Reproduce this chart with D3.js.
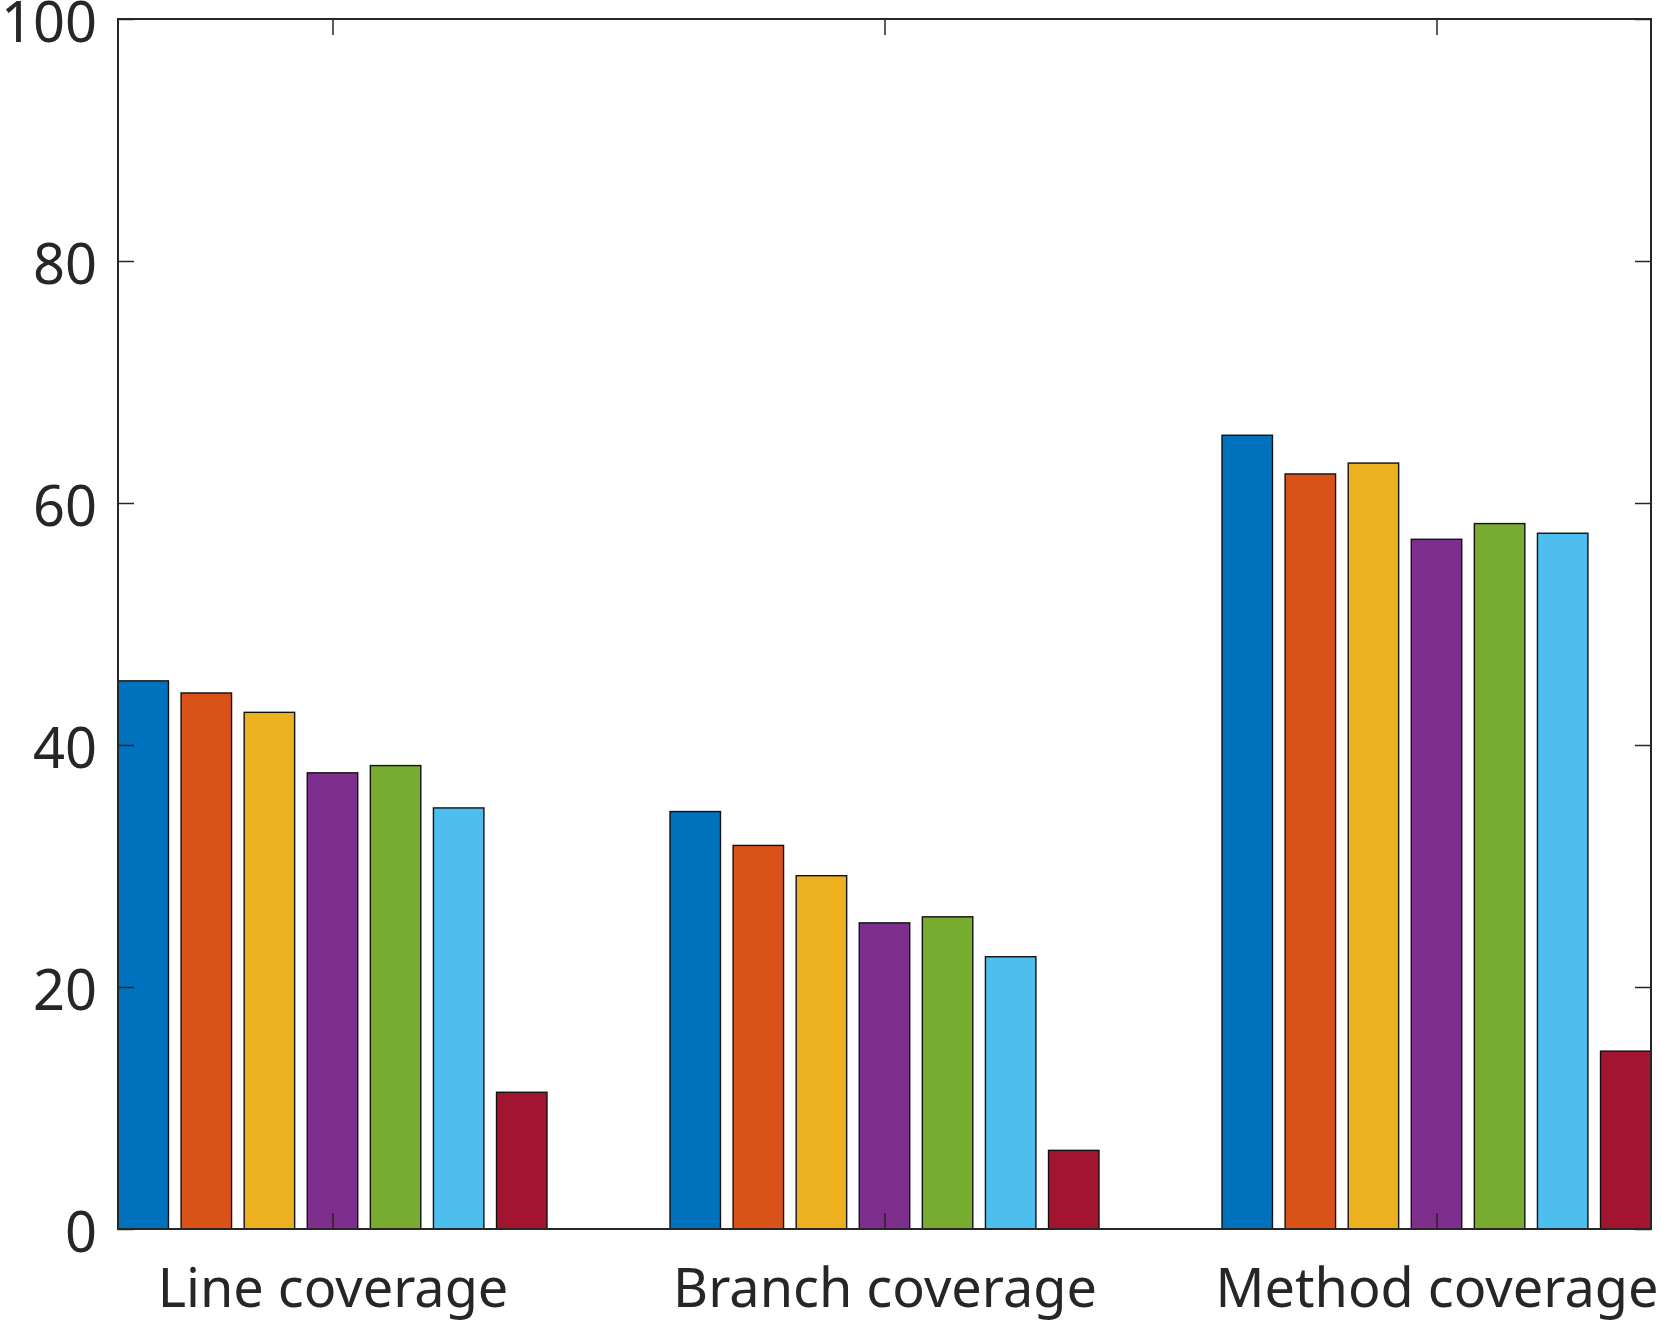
<!DOCTYPE html>
<html>
<head>
<meta charset="utf-8">
<script src="https://cdn.jsdelivr.net/npm/d3@7"></script>
<style>
  html, body { margin: 0; padding: 0; background: #fff; }
  svg { display: block; }
  text { font-family: "Noto Sans", "Open Sans", sans-serif; fill: #262626; }
</style>
</head>
<body>
<svg id="chart" width="1661" height="1329"></svg>
<script>
// ---- data ----
const categories = ["Line coverage", "Branch coverage", "Method coverage"];
const seriesColors = ["#0072BD", "#D95319", "#EDB120", "#7E2F8E", "#77AC30", "#4DBEEE", "#A2142F"];
const series1 = [45.3, 34.5, 65.6];
const series2 = [44.3, 31.7, 62.4];
const series3 = [42.7, 29.2, 63.3];
const series4 = [37.7, 25.3, 57.0];
const series5 = [38.3, 25.8, 58.3];
const series6 = [34.8, 22.5, 57.5];
const series7 = [11.3, 6.5, 14.7];
const yTicks = [0, 20, 40, 60, 80, 100];

const allSeries = [series1, series2, series3, series4, series5, series6, series7];

// ---- layout ----
const plotLeft = 118, plotRight = 1651, plotTop = 19, plotBottom = 1229;
const nSeries = allSeries.length;
const groupWidth = 0.8;
const pitch = groupWidth / nSeries;
const barW = pitch * 0.8;
const pad = (nSeries - 1) / 2 * pitch + barW / 2;

const x = d3.scaleLinear().domain([1 - pad, categories.length + pad]).range([plotLeft, plotRight]);
const y = d3.scaleLinear().domain([0, 100]).range([plotBottom, plotTop]);

const svg = d3.select("#chart");
const axisColor = "#262626";

// bars
allSeries.forEach((vals, si) => {
  const off = (si - (nSeries - 1) / 2) * pitch;
  svg.append("g").selectAll("rect")
    .data(vals)
    .join("rect")
    .attr("x", (d, i) => x(i + 1 + off - barW / 2))
    .attr("width", (d, i) => x(i + 1 + off + barW / 2) - x(i + 1 + off - barW / 2))
    .attr("y", d => y(d))
    .attr("height", d => y(0) - y(d))
    .attr("fill", seriesColors[si])
    .attr("stroke", "#111")
    .attr("stroke-width", 1.4);
});

// axes
const tickLen = 16;
const xTickVals = categories.map((c, i) => i + 1);

const gl = svg.append("g").attr("transform", `translate(${plotLeft},0)`)
  .call(d3.axisLeft(y).tickValues(yTicks).tickSize(-tickLen).tickPadding(21).tickFormat(d3.format("d")));
const gr = svg.append("g").attr("transform", `translate(${plotRight},0)`)
  .call(d3.axisRight(y).tickValues(yTicks).tickSize(-tickLen).tickFormat(""));
const gb = svg.append("g").attr("transform", `translate(0,${plotBottom})`)
  .call(d3.axisBottom(x).tickValues(xTickVals).tickSize(-tickLen).tickPadding(40)
    .tickFormat((d) => categories[d - 1]));
const gt = svg.append("g").attr("transform", `translate(0,${plotTop})`)
  .call(d3.axisTop(x).tickValues(xTickVals).tickSize(-tickLen).tickFormat(""));

[gl, gr, gb, gt].forEach(g => {
  g.select(".domain").remove();
  g.selectAll(".tick line").attr("stroke", axisColor).attr("stroke-width", 1.5);
  g.selectAll("text").attr("fill", axisColor).style("font-family", '"Noto Sans", "Open Sans", sans-serif');
});
gl.selectAll("text").attr("font-size", 56).attr("dy", "0.40em");
gb.selectAll("text").attr("font-size", 54).attr("dy", "0.71em");

// box
svg.append("rect")
  .attr("x", plotLeft).attr("y", plotTop)
  .attr("width", plotRight - plotLeft).attr("height", plotBottom - plotTop)
  .attr("fill", "none").attr("stroke", axisColor).attr("stroke-width", 2);
</script>
</body>
</html>
